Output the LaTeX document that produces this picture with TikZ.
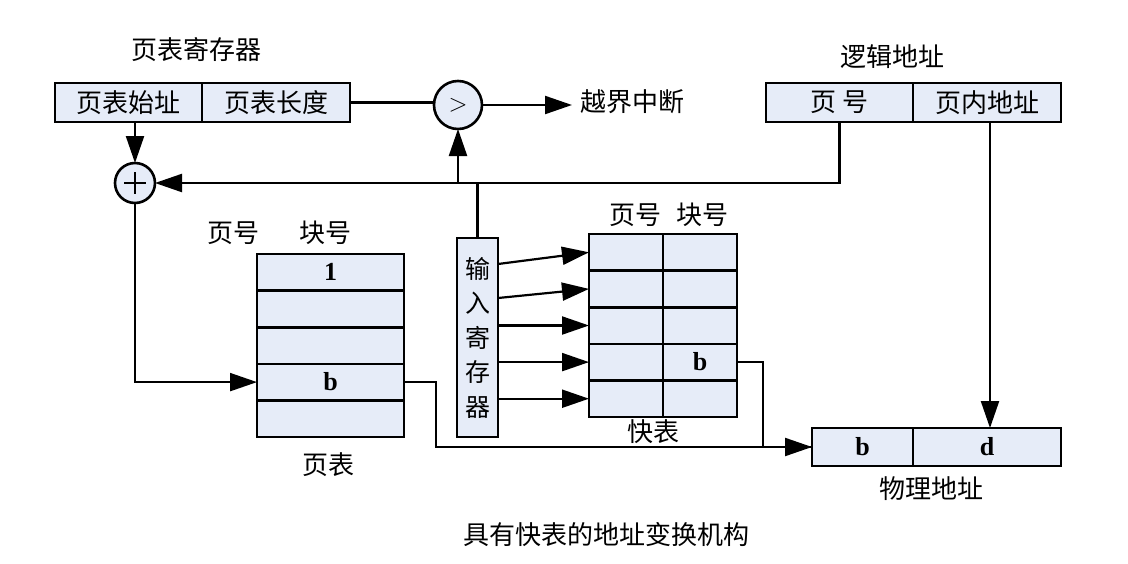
\documentclass[tikz,border=0pt]{standalone}
\usepackage{fontspec}
\setmainfont{Liberation Serif}
\newfontfamily\cjk{Noto Sans CJK SC}
\usetikzlibrary{arrows.meta,calc}
\definecolor{boxfill}{RGB}{230,236,248}
\tikzset{
  cell/.style={draw=black,line width=2.6pt,fill=boxfill,inner sep=0pt,outer sep=0pt,anchor=center,font=\cjk\fontsize{26}{30}\selectfont},
  bcell/.style={cell,font=\bfseries\fontsize{26}{30}\selectfont},
  op/.style={circle,draw=black,line width=2.6pt,fill=boxfill,inner sep=0pt,outer sep=0pt},
  lbl/.style={font=\cjk\fontsize{26}{30}\selectfont,inner sep=0pt},
  conn/.style={line width=2.2pt},
  arr/.style={conn,-{Triangle[length=27pt,width=18pt]}},
}
\begin{document}
\begin{tikzpicture}[x=1pt,y=-1pt]
\useasboundingbox (0,0) rectangle (1128,563);
% page table register
\node[cell,minimum width=147pt,minimum height=39pt] (ptstart) at (128.5,102.5) {页表始址};
\node[cell,minimum width=148pt,minimum height=39pt] (ptlen) at (276,102.5) {页表长度};
\node[lbl] (ptreglbl) at (196,50) {页表寄存器};
% logical address
\node[cell,minimum width=147pt,minimum height=39pt] (lpn) at (839.5,102.5) {页\hspace{6pt}号};
\node[cell,minimum width=148pt,minimum height=39pt] (loff) at (987,102.5) {页内地址};
\node[lbl] (laddrlbl) at (892,57) {逻辑地址};
% physical address
\node[bcell,minimum width=101pt,minimum height=38pt] (pb) at (862.5,447) {b};
\node[bcell,minimum width=148pt,minimum height=38pt] (pd) at (987,447) {d};
\node[lbl] (paddrlbl) at (931,489) {物理地址};
% operators
\node[op,minimum size=40pt] (plus) at (135,183) {};
\draw[line width=2pt] ($(plus.center)+(-11,0)$) -- ($(plus.center)+(11,0)$)
  ($(plus.center)+(0,-11)$) -- ($(plus.center)+(0,11)$);
\node[op,minimum size=48pt,font=\fontsize{26}{26}\selectfont] (cmp) at (458,105) {$>$};
\node[lbl,anchor=west] (intr) at (580,102) {越界中断};
% page table
\foreach \i/\t in {1/1,2/,3/,4/b,5/} {
  \node[bcell,minimum width=147pt,minimum height=36.6pt] (pt\i) at (330.5,{254+18.3+36.6*(\i-1)}) {\t};
}
\node[lbl] (pthdra) at (233,233) {页号};
\node[lbl] (pthdrb) at (325,233) {块号};
\node[lbl] (ptlbl) at (328,465) {页表};
% TLB
\foreach \i in {1,...,5} {
  \node[cell,minimum width=74pt,minimum height=36.6pt] (t\i a) at (626,{234+18.3+36.6*(\i-1)}) {};
  \node[cell,minimum width=74pt,minimum height=36.6pt] (t\i b) at (700,{234+18.3+36.6*(\i-1)}) {};
}
\node[bcell,draw=none,fill=none] at (t4b) {b};
\node[lbl] (tlbhdra) at (635,215) {页号};
\node[lbl] (tlbhdrb) at (702,215) {块号};
\node[lbl] (tlblbl) at (653,432) {快表};
% input register
\node[cell,minimum width=41pt,minimum height=199pt,font=\cjk\fontsize{25}{34.5}\selectfont,align=center] (inreg) at (477.5,337.5) {输\\入\\寄\\存\\器};
% caption
\node[lbl] (caption) at (606,535) {具有快表的地址变换机构};
% connectors
\draw[arr] (plus.north |- ptstart.south) -- (plus.north);
\draw[conn] (ptlen.east) -- (ptlen.east -| cmp.west);
\draw[arr,shorten >=8pt] (cmp.east) -- (cmp.east -| intr.west);
\draw[arr] (lpn.south) |- (plus.east);
\draw[arr] (cmp.south |- plus.east) -- (cmp.south);
\draw[conn] (inreg.north) -- (inreg.north |- plus.east);
\draw[arr] (plus.south) |- (pt4.west);
\draw[arr] (pt4.east) -- ++(32,0) |- (pb.west);
\draw[conn] (t4b.east) -- ++(26,0) |- (pb.west);
\draw[arr] (loff.south -| 990,0) -- (pd.north -| 990,0);
\draw[arr] ($(inreg.north east)+(0,26)$) -- (t1a.west);
\draw[arr] ($(inreg.north east)+(0,60)$) -- (t2a.west);
\foreach \i in {3,4,5} { \draw[arr] (inreg.east |- t\i a.west) -- (t\i a.west); }
\end{tikzpicture}
\end{document}
